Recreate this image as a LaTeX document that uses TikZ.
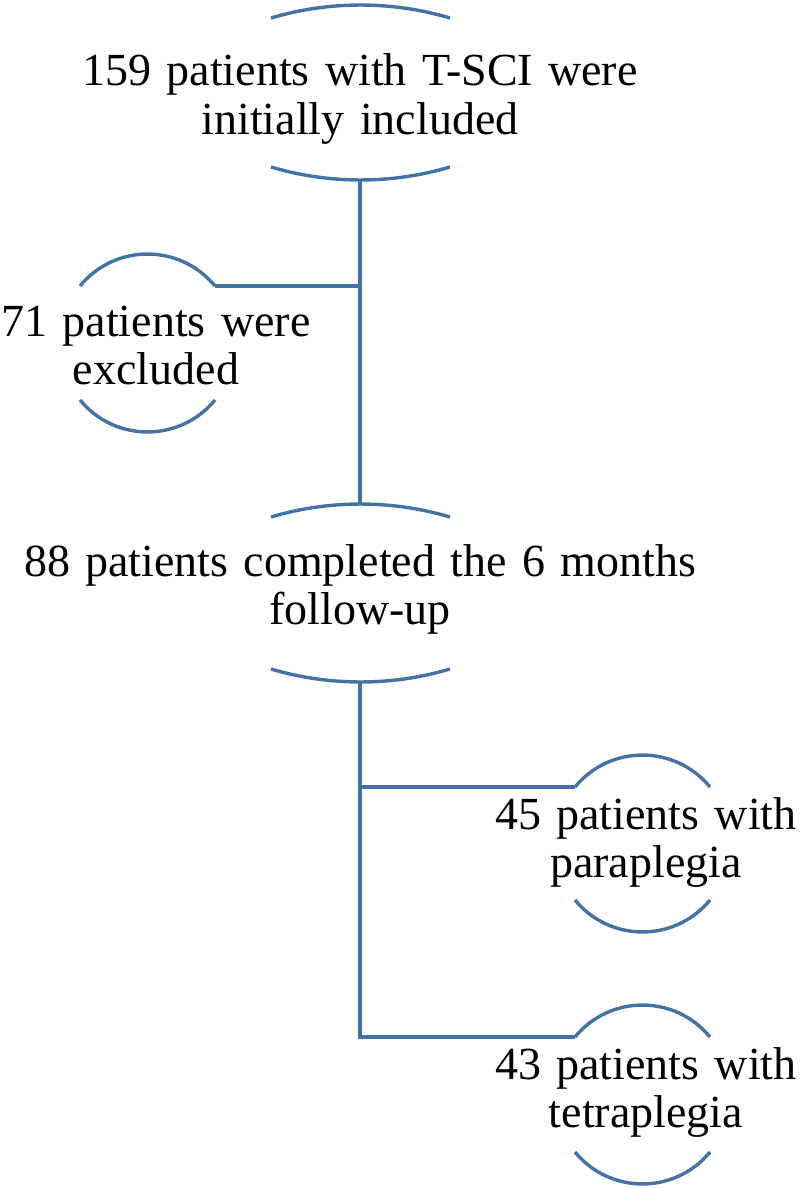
\documentclass[tikz,border=0pt]{standalone}
\usepackage{fontspec}
\setmainfont{Liberation Serif}
\definecolor{linecol}{RGB}{68,114,162}
\begin{document}
\begin{tikzpicture}[x=0.5pt,y=-0.5pt,
  lbl/.style={font=\fontsize{23}{24.4}\selectfont, text width=#1, align=center, inner sep=0pt, anchor=base},
  conn/.style={draw=linecol, line width=1.7pt},
]
\useasboundingbox (0,0) rectangle (800,1188);
% text nodes
\node[lbl=340pt] (t1) at (360,86) {159 patients with T-SCI were\\initially included};
\node[lbl=160pt] (t2) at (156,336) {71 patients were\\excluded};
\node[lbl=360pt] (t3) at (360,576) {88 patients completed the 6 months\\follow-up};
\node[lbl=160pt] (t4) at (646,829) {45 patients with\\paraplegia};
\node[lbl=160pt] (t5) at (646,1079) {43 patients with\\tetraplegia};
% arc end points
\coordinate (a1l) at (271,18);  \coordinate (a1r) at (450,18);
\coordinate (b1l) at (271,167); \coordinate (b1r) at (450,167);
\coordinate (b1m) at (360,180);
\coordinate (a3l) at (271,517); \coordinate (a3r) at (450,517);
\coordinate (a3m) at (360,504);
\coordinate (b3l) at (271,669); \coordinate (b3r) at (450,669);
\coordinate (b3m) at (360,682);
\coordinate (a2l) at (80,286);  \coordinate (a2r) at (215,286);
\coordinate (b2l) at (80,400);  \coordinate (b2r) at (215,400);
\coordinate (a4l) at (575,787); \coordinate (a4r) at (710,787);
\coordinate (b4l) at (575,900); \coordinate (b4r) at (710,900);
\coordinate (a5l) at (575,1037); \coordinate (a5r) at (710,1037);
\coordinate (b5l) at (575,1152); \coordinate (b5r) at (710,1152);
\coordinate (j1) at (360,286);
\coordinate (j2) at (360,787);
\coordinate (j3) at (360,1037);
% flat arcs
\draw[conn] (a1l) .. controls +(58,-17.3) and +(-58,-17.3) .. (a1r);
\draw[conn] (b1l) .. controls +(58,17.3) and +(-58,17.3) .. (b1r);
\draw[conn] (a3l) .. controls +(58,-17.3) and +(-58,-17.3) .. (a3r);
\draw[conn] (b3l) .. controls +(58,17.3) and +(-58,17.3) .. (b3r);
% round arcs
\draw[conn] (a2l) .. controls +(35,-42.6) and +(-35,-42.6) .. (a2r);
\draw[conn] (b2l) .. controls +(35,42.6) and +(-35,42.6) .. (b2r);
\draw[conn] (a4l) .. controls +(35,-42.6) and +(-35,-42.6) .. (a4r);
\draw[conn] (b4l) .. controls +(35,42.6) and +(-35,42.6) .. (b4r);
\draw[conn] (a5l) .. controls +(35,-42.6) and +(-35,-42.6) .. (a5r);
\draw[conn] (b5l) .. controls +(35,42.6) and +(-35,42.6) .. (b5r);
% connectors
\draw[conn] (b1m) -- (a3m);
\draw[conn] (j1) -- (a2r);
\draw[conn] (b3m) -- (j3) -- (a5l);
\draw[conn] (j2) -- (a4l);
\end{tikzpicture}
\end{document}
